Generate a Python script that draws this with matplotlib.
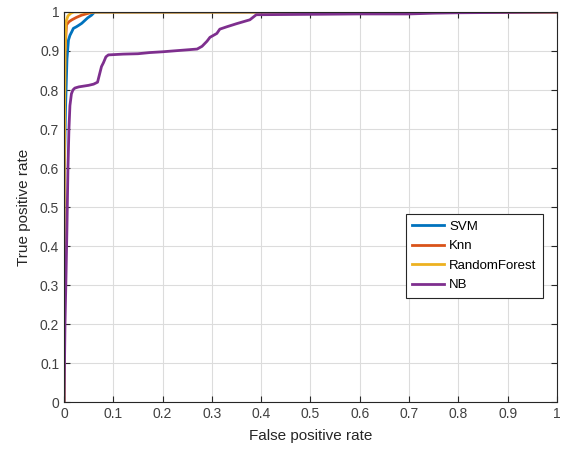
import numpy as np
import matplotlib.pyplot as plt

# ROC curves
svm_fpr = [0, 0, 0.003, 0.006, 0.009, 0.012, 0.016, 0.019, 0.025, 0.030, 0.036, 0.042, 0.048, 0.056, 0.062, 1.0]
svm_tpr = [0, 0.55, 0.75, 0.88, 0.928, 0.940, 0.950, 0.958, 0.962, 0.966, 0.971, 0.978, 0.985, 0.992, 1.0, 1.0]

knn_fpr = [0, 0, 0.002, 0.005, 0.010, 0.016, 0.025, 0.036, 0.050, 0.060, 1.0]
knn_tpr = [0, 0.60, 0.90, 0.967, 0.975, 0.980, 0.986, 0.992, 0.997, 1.0, 1.0]

rf_fpr = [0, 0, 0.002, 0.004, 0.008, 0.014, 0.020, 1.0]
rf_tpr = [0, 0.50, 0.90, 0.975, 0.990, 0.997, 1.0, 1.0]

nb_fpr = [0, 0.002, 0.004, 0.006, 0.008, 0.010, 0.012, 0.015, 0.018, 0.022, 0.030, 0.040,
          0.050, 0.060, 0.068, 0.072, 0.076, 0.080, 0.085, 0.090, 0.120, 0.150, 0.174,
          0.200, 0.220, 0.250, 0.270, 0.280, 0.290, 0.296, 0.310, 0.316, 0.330, 0.350,
          0.377, 0.390, 0.500, 0.600, 0.700, 0.750, 0.800, 0.900, 1.0]
nb_tpr = [0, 0.20, 0.32, 0.45, 0.60, 0.70, 0.76, 0.79, 0.80, 0.805, 0.808, 0.810,
          0.812, 0.815, 0.820, 0.840, 0.860, 0.870, 0.885, 0.890, 0.892, 0.893, 0.896,
          0.898, 0.900, 0.903, 0.905, 0.912, 0.925, 0.935, 0.945, 0.956, 0.962, 0.970,
          0.980, 0.993, 0.994, 0.995, 0.995, 0.997, 0.998, 0.999, 1.0]

labels = ["SVM", "Knn", "RandomForest", "NB"]
colors = ["#0072BD", "#D95319", "#EDB120", "#7E2F8E"]

plt.rcParams['font.family'] = ['Liberation Sans', 'DejaVu Sans']

fig = plt.figure(figsize=(5.63, 4.51), dpi=100)
ax = fig.add_axes([0.1137, 0.1086, 0.8756, 0.8648])

curves = [(svm_fpr, svm_tpr), (knn_fpr, knn_tpr), (rf_fpr, rf_tpr), (nb_fpr, nb_tpr)]
for (x, y), lab, c in zip(curves, labels, colors):
    ax.plot(x, y, color=c, lw=2, label=lab, solid_joinstyle='round')

ax.set_xlim(0, 1)
ax.set_ylim(0, 1)
ticks = np.round(np.arange(0, 1.01, 0.1), 1)
ax.set_xticks(ticks)
ax.set_yticks(ticks)
ax.set_xticklabels([f"{t:g}" for t in ticks])
ax.set_yticklabels([f"{t:g}" for t in ticks])
ax.tick_params(direction='in', top=True, right=True, labelsize=10, colors='#262626',
               labelcolor='#404040', length=4)
ax.grid(True, color='#dcdcdc', lw=0.8)
ax.set_axisbelow(True)
for s in ax.spines.values():
    s.set_color('#262626')
    s.set_linewidth(0.8)

ax.set_xlabel("False positive rate", fontsize=11, color='#262626', labelpad=6)
ax.set_ylabel("True positive rate", fontsize=11, color='#262626', labelpad=6)

leg = ax.legend(loc='lower right', bbox_to_anchor=(0.972, 0.267), fontsize=9.5,
                fancybox=False, framealpha=1, edgecolor='#262626',
                handlelength=2.4, labelspacing=0.55, borderpad=0.5, handletextpad=0.4,
                borderaxespad=0)
leg.get_frame().set_linewidth(0.8)

plt.savefig("out.png", dpi=100)
